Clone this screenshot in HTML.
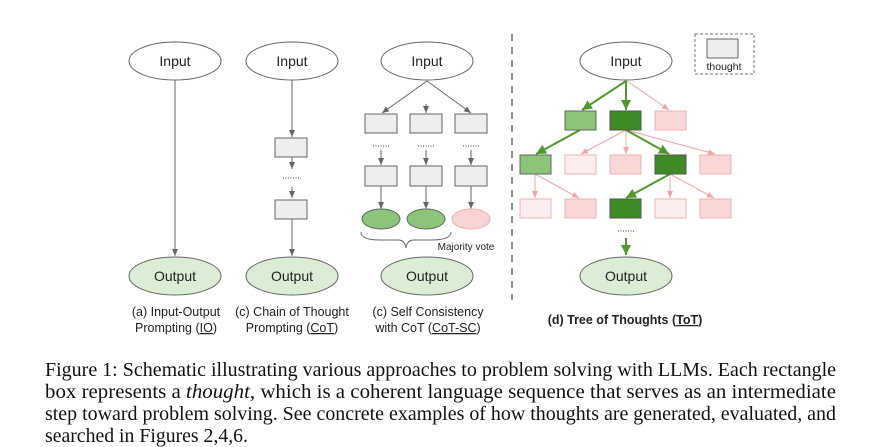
<!DOCTYPE html>
<html><head><meta charset="utf-8"><style>
html,body{margin:0;padding:0;background:#fff;width:871px;height:447px;overflow:hidden}
svg{display:block}
.s{font-family:"Liberation Sans",sans-serif;fill:#222}
.c{font-family:"Liberation Serif",serif;font-size:20px;fill:#111}
</style></head><body>
<svg width="871" height="447" viewBox="0 0 871 447" xmlns="http://www.w3.org/2000/svg">
<defs>
<marker id="ag" markerWidth="8" markerHeight="8" refX="7" refY="4" orient="auto" markerUnits="userSpaceOnUse"><path d="M0,1 L7,4 L0,7z" fill="#666"/></marker>
<marker id="agr" markerWidth="12" markerHeight="12" refX="10" refY="5" orient="auto" markerUnits="userSpaceOnUse"><path d="M0,0 L10,5 L0,10z" fill="#4e9a2e"/></marker>
<marker id="ap" markerWidth="8" markerHeight="8" refX="7" refY="4" orient="auto" markerUnits="userSpaceOnUse"><path d="M0,1 L7,4 L0,7z" fill="#eea8a8"/></marker>
</defs>
<g stroke="#666" stroke-width="1" fill="none">
<ellipse cx="175" cy="61" rx="46" ry="19" fill="#fff"/>
<line x1="175" y1="80" x2="175" y2="256" marker-end="url(#ag)"/>
<ellipse cx="175" cy="276" rx="46" ry="19" fill="#dcedd5"/>
<ellipse cx="292" cy="61" rx="46" ry="19" fill="#fff"/>
<line x1="292" y1="80" x2="292" y2="137" marker-end="url(#ag)"/>
<rect x="275" y="138" width="32" height="19" fill="#eee"/>
<line x1="292" y1="157" x2="292" y2="169" marker-end="url(#ag)"/>
<line x1="292" y1="187" x2="292" y2="198" marker-end="url(#ag)"/>
<rect x="275" y="200" width="32" height="19" fill="#eee"/>
<line x1="292" y1="219" x2="292" y2="256" marker-end="url(#ag)"/>
<ellipse cx="292" cy="276" rx="46" ry="19" fill="#dcedd5"/>
<ellipse cx="427" cy="61" rx="46" ry="19" fill="#fff"/>
<line x1="427" y1="81" x2="382" y2="113" marker-end="url(#ag)"/>
<line x1="426" y1="104" x2="426" y2="113" marker-end="url(#ag)"/>
<line x1="427" y1="81" x2="471" y2="113" marker-end="url(#ag)"/>
<rect x="365" y="114" width="32" height="19" fill="#eee"/>
<rect x="410" y="114" width="32" height="19" fill="#eee"/>
<rect x="455" y="114" width="32" height="19" fill="#eee"/>
<line x1="381" y1="150" x2="381" y2="165" marker-end="url(#ag)"/>
<line x1="426" y1="150" x2="426" y2="165" marker-end="url(#ag)"/>
<line x1="471" y1="150" x2="471" y2="165" marker-end="url(#ag)"/>
<rect x="365" y="166" width="32" height="20" fill="#eee"/>
<rect x="410" y="166" width="32" height="20" fill="#eee"/>
<rect x="455" y="166" width="32" height="20" fill="#eee"/>
<line x1="381" y1="186" x2="381" y2="209" marker-end="url(#ag)"/>
<line x1="426" y1="186" x2="426" y2="209" marker-end="url(#ag)"/>
<line x1="471" y1="186" x2="471" y2="209" marker-end="url(#ag)"/>
<ellipse cx="381" cy="219" rx="19" ry="10" fill="#8cc47a"/>
<ellipse cx="426" cy="219" rx="19" ry="10" fill="#8cc47a"/>
<ellipse cx="471" cy="219" rx="19" ry="10" fill="#f8d4d4" stroke="#f0b0b0"/>
<path d="M361,232 Q361,240 380,240 L398,240 Q405,240 406,248 Q407,240 414,240 L431,240 Q451,240 451,232"/>
<ellipse cx="427" cy="276" rx="46" ry="19" fill="#dcedd5"/>
</g>
<g stroke="#444" stroke-width="1" stroke-dasharray="1,1.5">
<line x1="283" y1="178" x2="301" y2="178"/>
<line x1="373" y1="146" x2="389" y2="146"/>
<line x1="418" y1="146" x2="434" y2="146"/>
<line x1="463" y1="146" x2="479" y2="146"/>
<line x1="618" y1="231" x2="634" y2="231"/>
</g>
<line x1="512" y1="34" x2="512" y2="300" stroke="#555" stroke-width="1.3" stroke-dasharray="7,6"/>
<g stroke-width="1">
<rect x="695" y="34" width="59" height="40" fill="none" stroke="#777" stroke-dasharray="3,2"/>
<rect x="707" y="39" width="31" height="19" fill="#eee" stroke="#666"/>
<ellipse cx="626" cy="61" rx="46" ry="19" fill="#fff" stroke="#666"/>
<g stroke="#eea8a8" fill="none">
<line x1="627" y1="81" x2="669" y2="110" marker-end="url(#ap)"/>
<line x1="626" y1="130" x2="581" y2="154" marker-end="url(#ap)"/>
<line x1="626" y1="130" x2="626" y2="154" marker-end="url(#ap)"/>
<line x1="626" y1="130" x2="715" y2="154" marker-end="url(#ap)"/>
<line x1="535" y1="174" x2="535" y2="198" marker-end="url(#ap)"/>
<line x1="535" y1="174" x2="579" y2="198" marker-end="url(#ap)"/>
<line x1="670" y1="174" x2="670" y2="198" marker-end="url(#ap)"/>
<line x1="670" y1="174" x2="714" y2="198" marker-end="url(#ap)"/>
</g>
<g stroke="#4e9a2e" stroke-width="2" fill="none">
<line x1="626" y1="81" x2="582" y2="110" marker-end="url(#agr)"/>
<line x1="626" y1="81" x2="626" y2="110" marker-end="url(#agr)"/>
<line x1="580" y1="130" x2="536" y2="154" marker-end="url(#agr)"/>
<line x1="626" y1="130" x2="669" y2="154" marker-end="url(#agr)"/>
<line x1="670" y1="174" x2="626" y2="198" marker-end="url(#agr)"/>
<line x1="626" y1="238" x2="626" y2="255" marker-end="url(#agr)"/>
</g>
<rect x="565" y="111" width="31" height="19" fill="#8cc47a" stroke="#666"/>
<rect x="610" y="111" width="31" height="19" fill="#3f8a24" stroke="#555"/>
<rect x="655" y="111" width="31" height="19" fill="#fad7d7" stroke="#f0b0b0"/>
<rect x="520" y="155" width="31" height="19" fill="#8cc47a" stroke="#666"/>
<rect x="565" y="155" width="31" height="19" fill="#fdeeee" stroke="#f0b0b0"/>
<rect x="610" y="155" width="31" height="19" fill="#fad7d7" stroke="#f0b0b0"/>
<rect x="655" y="155" width="31" height="19" fill="#3f8a24" stroke="#555"/>
<rect x="700" y="155" width="31" height="19" fill="#fad7d7" stroke="#f0b0b0"/>
<rect x="520" y="199" width="31" height="19" fill="#fdeeee" stroke="#f0b0b0"/>
<rect x="565" y="199" width="31" height="19" fill="#fad7d7" stroke="#f0b0b0"/>
<rect x="610" y="199" width="31" height="19" fill="#3f8a24" stroke="#555"/>
<rect x="655" y="199" width="31" height="19" fill="#fdeeee" stroke="#f0b0b0"/>
<rect x="700" y="199" width="31" height="19" fill="#fad7d7" stroke="#f0b0b0"/>
<ellipse cx="626" cy="276" rx="46" ry="19" fill="#dcedd5" stroke="#666"/>
</g>
<g class="s" font-size="14" text-anchor="middle">
<text x="175" y="66">Input</text><text x="292" y="66">Input</text><text x="427" y="66">Input</text><text x="626" y="66">Input</text>
<text x="175" y="281">Output</text><text x="292" y="281">Output</text><text x="427" y="281">Output</text><text x="626" y="281">Output</text>
<text x="724" y="70" font-size="10.5">thought</text>
<text x="466" y="250" font-size="10">Majority vote</text>
<text x="176" y="316" font-size="12.5">(a) Input-Output</text>
<text x="176" y="332" font-size="12.5">Prompting (<tspan text-decoration="underline">IO</tspan>)</text>
<text x="292" y="316" font-size="12.5">(c) Chain of Thought</text>
<text x="292" y="332" font-size="12.5">Prompting (<tspan text-decoration="underline">CoT</tspan>)</text>
<text x="428" y="316" font-size="12.5">(c) Self Consistency</text>
<text x="428" y="332" font-size="12.5">with CoT (<tspan text-decoration="underline">CoT-SC</tspan>)</text>
<text x="625" y="324" font-size="12.5" font-weight="bold">(d) Tree of Thoughts (<tspan text-decoration="underline">ToT</tspan>)</text>
</g>
<g class="c">
<text x="45" y="376" textLength="791" lengthAdjust="spacingAndGlyphs">Figure 1: Schematic illustrating various approaches to problem solving with LLMs. Each rectangle</text>
<text x="45" y="398" textLength="791" lengthAdjust="spacingAndGlyphs">box represents a <tspan font-style="italic">thought</tspan>, which is a coherent language sequence that serves as an intermediate</text>
<text x="45" y="420" textLength="791" lengthAdjust="spacingAndGlyphs">step toward problem solving. See concrete examples of how thoughts are generated, evaluated, and</text>
<text x="45" y="442" textLength="203" lengthAdjust="spacingAndGlyphs">searched in Figures 2,4,6.</text>
</g>
</svg>
</body></html>
